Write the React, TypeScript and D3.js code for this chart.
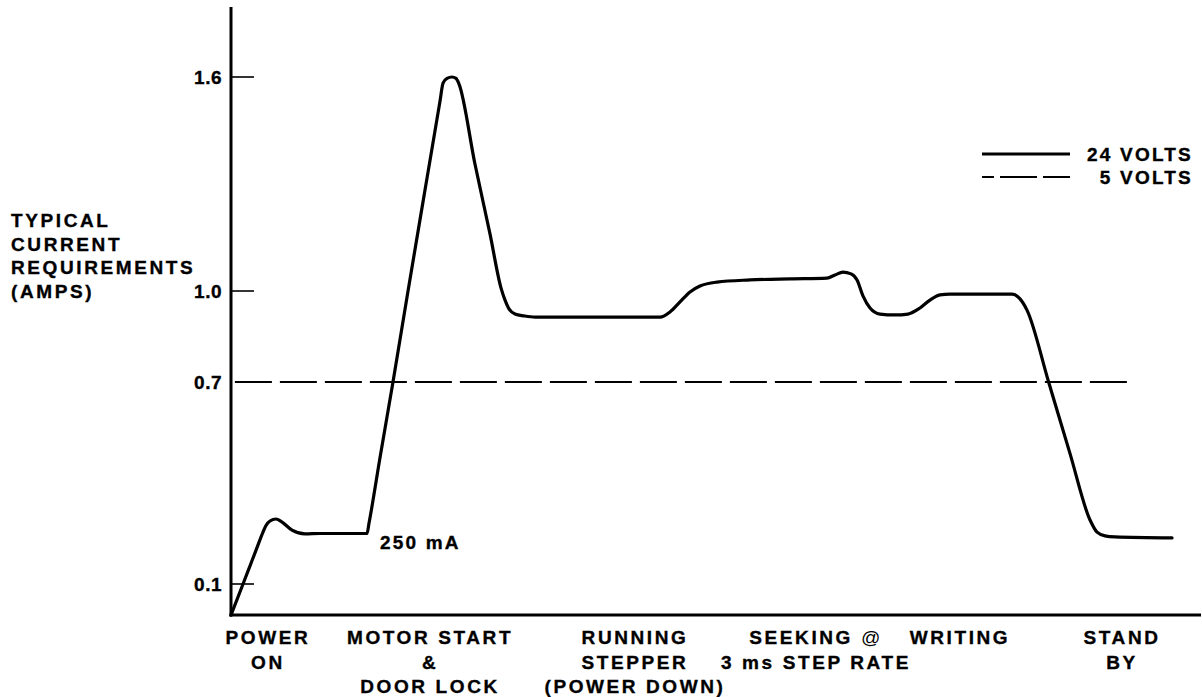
import { useEffect, useRef } from "react";
import * as d3 from "d3";

// 24 V supply current over the drive's operating phases (time in arbitrary units 0..100)
const time24 = [
  0, 1.24, 1.96, 2.68, 3.3, 3.61, 4.02, 4.64, 5.26, 6.29,
  7.63, 9.18, 14.02, 14.23, 15.36, 16.7, 18.25, 20.0, 21.55, 21.86,
  22.27, 22.78, 23.2, 23.51, 25.15, 26.7, 27.84, 28.25, 28.66, 29.28,
  30.21, 31.34, 38.04, 44.23, 45.26, 46.29, 47.32, 48.35, 50.1, 53.51,
  57.63, 61.44, 62.27, 63.09, 63.92, 64.54, 65.15, 65.88, 66.91, 68.45,
  69.79, 71.03, 72.06, 73.09, 74.12, 80.52, 81.34, 82.06, 84.29, 86.49,
  88.56, 89.28, 90.1, 91.13, 97.01,
];
const amps24 = [
  0, 0.1, 0.154, 0.208, 0.254, 0.274, 0.287, 0.293, 0.284, 0.26,
  0.249, 0.25, 0.25, 0.281, 0.475, 0.7, 1.0, 1.283, 1.533, 1.583,
  1.596, 1.6, 1.596, 1.58, 1.356, 1.16, 1.008, 0.97, 0.941, 0.924,
  0.918, 0.914, 0.914, 0.914, 0.931, 0.964, 0.997, 1.014, 1.025, 1.031,
  1.034, 1.036, 1.045, 1.053, 1.048, 1.031, 0.984, 0.944, 0.924, 0.921,
  0.924, 0.944, 0.97, 0.987, 0.99, 0.99, 0.974, 0.937, 0.7, 0.488,
  0.29, 0.254, 0.243, 0.24, 0.237,
];

// 5 V supply is a constant 0.7 A
const time5 = [0.4, 92.4];
const amps5 = [0.7, 0.7];

const yTicks = [0.1, 0.7, 1.0, 1.6];
const yTickLabels = ["0.1", "0.7", "1.0", "1.6"];
const yTickMarks = [0.1, 1.0, 1.6];

const phaseTime = [3.81, 20.52, 41.65, 60.31, 75.15, 91.86];
const phaseLabels = [
  ["POWER", "ON"],
  ["MOTOR START", "&", "DOOR LOCK"],
  ["RUNNING", "STEPPER", "(POWER DOWN)"],
  ["SEEKING @", "3 ms STEP RATE"],
  ["WRITING"],
  ["STAND", "BY"],
];

const yTitle = ["TYPICAL", "CURRENT", "REQUIREMENTS", "(AMPS)"];
const legendLabels = ["24 VOLTS", "5 VOLTS"];
const noteLabel = "250 mA";
const noteTime = 15.36;
const noteAmps = 0.25;

const FONT = "'Liberation Sans', Arial, Helvetica, sans-serif";

export default function App() {
  const svgRef = useRef<SVGSVGElement>(null);

  useEffect(() => {
    if (!svgRef.current) return;
    const svg = d3.select(svgRef.current);
    svg.selectAll("*").remove();

    const x = d3.scaleLinear().domain([0, 100]).range([231, 1201]);
    // the printed axis is not evenly spaced, so map each labelled value
    const y = d3.scaleLinear()
      .domain([0, 0.1, 0.7, 1.0, 1.6])
      .range([615, 584, 382, 291, 77]);

    const text = (sel: any) =>
      sel.attr("font-family", FONT)
        .attr("font-weight", "bold")
        .attr("font-size", 19)
        .attr("fill", "#000")
        .attr("stroke", "#000")
        .attr("stroke-width", 0.35);

    // axes
    svg.append("line")
      .attr("x1", x(0)).attr("x2", x(0))
      .attr("y1", 7).attr("y2", y(0) + 1.5)
      .attr("stroke", "#000").attr("stroke-width", 3);
    svg.append("line")
      .attr("x1", x(0) - 1.5).attr("x2", x(100))
      .attr("y1", y(0)).attr("y2", y(0))
      .attr("stroke", "#000").attr("stroke-width", 3);

    yTickMarks.forEach(v => {
      svg.append("line")
        .attr("x1", x(0)).attr("x2", x(0) + 23)
        .attr("y1", y(v)).attr("y2", y(v))
        .attr("stroke", "#000").attr("stroke-width", 1.6);
    });

    yTicks.forEach((v, i) => {
      svg.append("text")
        .call(text)
        .attr("x", x(0) - 9)
        .attr("y", y(v) + 7)
        .attr("text-anchor", "end")
        .attr("letter-spacing", 0.5)
        .text(yTickLabels[i]);
    });

    // y title
    const title = svg.append("text").call(text).attr("letter-spacing", 2.6);
    yTitle.forEach((t, i) => {
      title.append("tspan").attr("x", 11).attr("y", 227 + i * 23.7).text(t);
    });

    // 5 volt dashed line
    const line = d3.line<number>()
      .x((_d, i) => x(time5[i]))
      .y(d => y(d));
    svg.append("path")
      .datum(amps5)
      .attr("d", line)
      .attr("fill", "none")
      .attr("stroke", "#000")
      .attr("stroke-width", 2)
      .attr("stroke-dasharray", "37 8");

    // 24 volt curve
    const curve = d3.line<number>()
      .x((_d, i) => x(time24[i]))
      .y(d => y(d))
      .curve(d3.curveMonotoneX);
    svg.append("path")
      .datum(amps24)
      .attr("d", curve)
      .attr("fill", "none")
      .attr("stroke", "#000")
      .attr("stroke-width", 3.2)
      .attr("stroke-linejoin", "round")
      .attr("stroke-linecap", "round");

    // annotation
    svg.append("text")
      .call(text)
      .attr("x", x(noteTime))
      .attr("y", y(noteAmps) + 15)
      .attr("letter-spacing", 2.2)
      .text(noteLabel);

    // phase labels
    phaseLabels.forEach((lines, i) => {
      const t = svg.append("text")
        .call(text)
        .attr("text-anchor", "middle")
        .attr("letter-spacing", 2.6);
      lines.forEach((ln, j) => {
        const ts = t.append("tspan")
          .attr("x", x(phaseTime[i]))
          .attr("y", 644 + j * 24.5);
        const parts = ln.split("@");
        ts.append("tspan").text(parts[0]);
        if (parts.length > 1) {
          ts.append("tspan")
            .attr("font-style", "italic")
            .attr("font-weight", "normal")
            .attr("stroke-width", 0)
            .text("@");
          ts.append("tspan").text(parts[1]);
        }
      });
    });

    // legend
    const legendY = [154, 177];
    legendY.forEach((ly, i) => {
      svg.append("line")
        .attr("x1", 982).attr("x2", 1070)
        .attr("y1", ly).attr("y2", ly)
        .attr("stroke", "#000")
        .attr("stroke-width", i === 0 ? 3.2 : 2)
        .attr("stroke-dasharray", i === 0 ? null : "12 6 37 6 28");
      svg.append("text")
        .call(text)
        .attr("x", 1193)
        .attr("y", ly + 7)
        .attr("text-anchor", "end")
        .attr("letter-spacing", 2.2)
        .text(legendLabels[i]);
    });
  }, []);

  return (
    <svg
      ref={svgRef}
      width={1202}
      height={697}
      style={{ position: "absolute", left: 0, top: 0, background: "#fff" }}
    />
  );
}
